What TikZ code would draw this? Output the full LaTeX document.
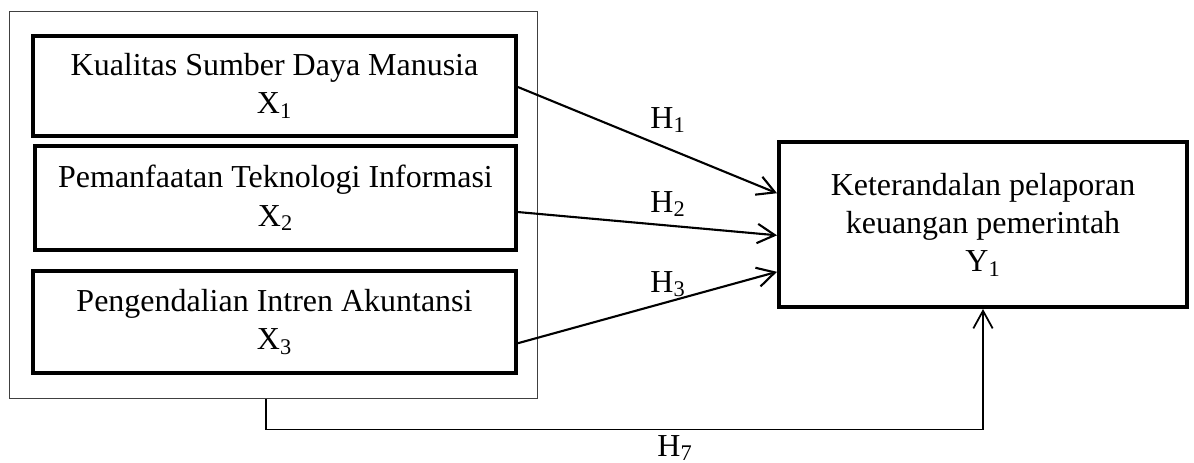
\documentclass[tikz,border=0pt]{standalone}
\usepackage{fontspec}
\setmainfont{Liberation Serif}
\usetikzlibrary{calc,arrows.meta}
\tikzset{varbox/.style={draw=black, line width=2.3pt, align=center, inner sep=0pt}}
\tikzset{hyp/.style={-{Straight Barb[length=10pt,width=11pt]}, line width=1.2pt}}
\tikzset{hlabel/.style={inner sep=0pt}}

\begin{document}
\begin{tikzpicture}[x=0.02cm, y=-0.02cm, font=\fontsize{18.2}{21.8}\selectfont]
\useasboundingbox (0,0) rectangle (1194,463);
\node (outer) at (273.5,205) [draw=black!75, line width=0.6pt, minimum width=10.58cm, minimum height=7.76cm] {};
\node (x1) at (274.5,86) [varbox, minimum width=9.66cm, minimum height=2cm] {Kualitas Sumber Daya Manusia\\X\textsubscript{1}};
\node (x2) at (275.5,198) [varbox, minimum width=9.62cm, minimum height=2.08cm] {Pemanfaatan Teknologi Informasi\\X\textsubscript{2}};
\node (x3) at (274.5,322) [varbox, minimum width=9.66cm, minimum height=2.04cm] {Pengendalian Intren Akuntansi\\X\textsubscript{3}};
\node (y1) at (983,224.5) [varbox, minimum width=8.16cm, minimum height=3.3cm] {Keterandalan pelaporan\\keuangan pemerintah\\Y\textsubscript{1}};
% hypotheses
\draw[hyp] ($(x1.north east)!0.51!(x1.south east)$) -- ($(y1.north west)!0.315!(y1.south west)$);
\draw[hyp] ($(x2.north east)!0.63!(x2.south east)$) -- ($(y1.north west)!0.564!(y1.south west)$);
\draw[hyp] ($(x3.north east)!0.7!(x3.south east)$) -- ($(y1.north west)!0.78!(y1.south west)$);
\node (h1) at (668,120) [hlabel] {H\textsubscript{1}};
\node (h2) at (668,204) [hlabel] {H\textsubscript{2}};
\node (h3) at (668,284) [hlabel] {H\textsubscript{3}};
% simultaneous
\coordinate (h7start) at ($(outer.south west)!0.486!(outer.south east)$);
\draw[hyp, line width=1pt] (h7start) -- ++(0,30) -| (y1.south);
\node (h7) at (675,448) [hlabel] {H\textsubscript{7}};
\end{tikzpicture}
\end{document}
